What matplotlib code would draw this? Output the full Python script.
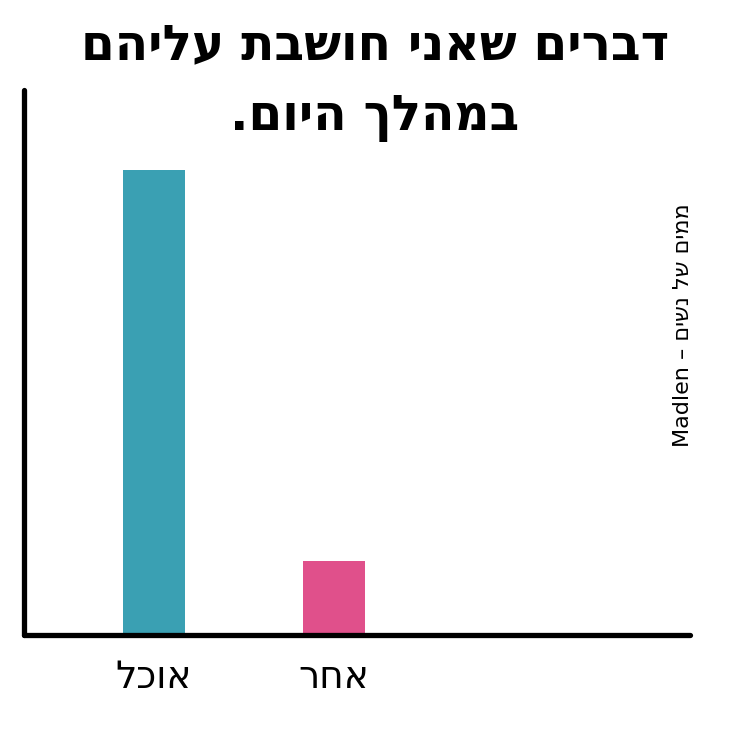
import matplotlib
matplotlib.use('Agg')
import matplotlib.pyplot as plt

# data (logical Hebrew order; reversed for display since matplotlib has no bidi)
categories = ['אוכל', 'אחר']
values = [100, 16]
bar_colors = ['#3aa0b3', '#e0508b']
title_lines = ['דברים שאני חושבת עליהם', 'במהלך היום.']
credit_latin = 'Madlen – '
credit_hebrew = 'ממים של נשים'


def rtl(s):
    return s[::-1]


fig = plt.figure(figsize=(7.5, 7.5), dpi=100)
ax = fig.add_axes([0.032, 0.1533, 0.888, 0.7267])

ax.bar(range(len(values)), values, width=0.345, color=bar_colors)

ax.set_xlim(-0.72, 2.98)
ax.set_ylim(0, 117.2)

for side in ['top', 'right']:
    ax.spines[side].set_visible(False)
for side in ['left', 'bottom']:
    ax.spines[side].set_linewidth(3.8)
    ax.spines[side].set_capstyle('round')

ax.set_yticks([])
ax.set_xticks(range(len(categories)))
ax.set_xticklabels([rtl(c) for c in categories], fontsize=27)
ax.tick_params(axis='x', length=0, pad=18)

fig.text(0.5, 0.94, rtl(title_lines[0]), ha='center', va='center',
         fontsize=35, fontweight='bold')
fig.text(0.5, 0.842, rtl(title_lines[1]), ha='center', va='center',
         fontsize=35, fontweight='bold')

fig.text(0.911, 0.567, credit_latin + rtl(credit_hebrew), rotation=90,
         ha='center', va='center', fontsize=16)

fig.savefig('out.png', dpi=100, facecolor='white')
